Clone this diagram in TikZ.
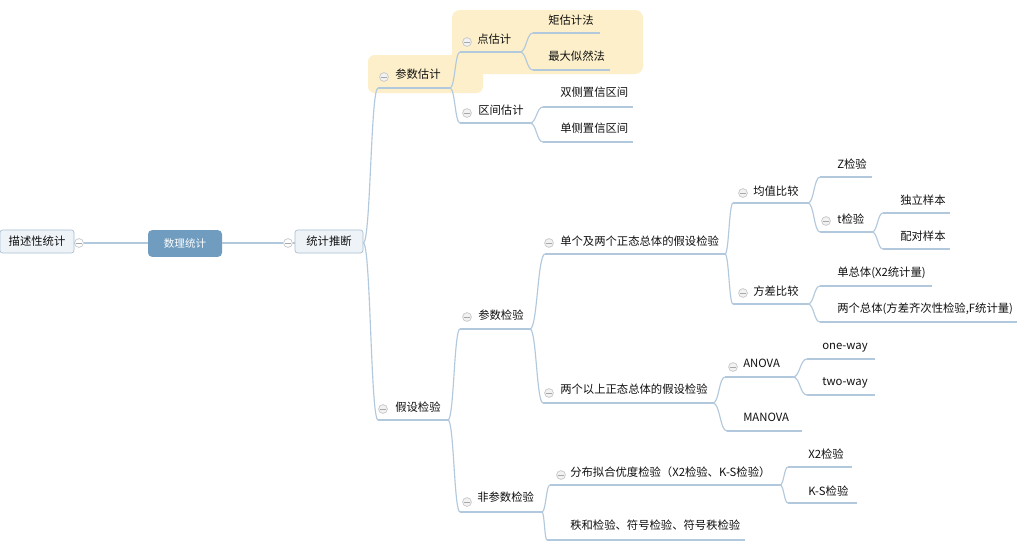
\documentclass[tikz,border=0pt]{standalone}
\usepackage{fontspec}
\setmainfont{Noto Sans CJK SC}
\usetikzlibrary{calc}
\definecolor{linec}{HTML}{B2C8DC}
\definecolor{rootc}{HTML}{6F9CBF}
\definecolor{boxfill}{HTML}{EEF3F8}
\definecolor{boxdraw}{HTML}{A9BFD3}
\definecolor{hilite}{HTML}{FCEFC9}
\definecolor{txtc}{HTML}{111111}
\definecolor{foldd}{HTML}{C4C4C4}
\definecolor{foldf}{HTML}{F2F2F2}
\definecolor{foldm}{HTML}{A8A8A8}
\newcommand\mmtopic[7]{%
  \node[txt] (#1) at (#3,#4) {#2};
  \coordinate (#1-s) at (#6,#5);
  \coordinate (#1-e) at (#7,#5);
  \draw[ul] (#1-s) -- (#1-e);
}
\begin{document}
\begin{tikzpicture}[x=0.75pt,y=-0.75pt,
  txt/.style={anchor=west,inner sep=0pt,text=txtc,font=\fontsize{8.5pt}{10pt}\selectfont,text height=6.3pt,text depth=1.3pt},
  ul/.style={draw=linec,line width=0.85pt},
  conn/.style={draw=linec,line width=0.85pt,
    to path={.. controls ($(\tikztostart)!0.5!(\tikztotarget |- \tikztostart)$) and ($(\tikztotarget)!0.5!(\tikztostart |- \tikztotarget)$) .. (\tikztotarget)}},
  fold/.style={circle,draw=foldd,fill=foldf,line width=0.5pt,minimum size=6.6pt,inner sep=0pt,
    path picture={\draw[foldm,line width=0.6pt] ([xshift=-2pt]path picture bounding box.center) -- ([xshift=2pt]path picture bounding box.center);}},
  foldw/.style={fold,fill=white},
  subbox/.style={rectangle,rounded corners=2pt,draw=boxdraw,fill=boxfill,line width=0.5pt,text=txtc,
    font=\fontsize{8.5pt}{10pt}\selectfont,minimum height=17.25pt,inner sep=0pt},
  rootbox/.style={rectangle,rounded corners=3pt,fill=rootc,text=white,
    font=\fontsize{7.9pt}{10pt}\selectfont,minimum width=55.5pt,minimum height=20pt,inner sep=0pt}
]
\useasboundingbox (0,0) rectangle (1028,554);
\fill[white] (0,0) rectangle (1028,554);

% highlight
\fill[hilite,rounded corners=6pt] (452,10) rectangle (643,74);
\fill[hilite,rounded corners=5pt] (368,55) rectangle (483,93);

% central part
\node[rootbox] (root) at (185,243.5) {数理统计};
\node[subbox,minimum width=55.5pt] (ms) at (37,241.5) {描述性统计};
\node[subbox,minimum width=51pt] (tl) at (329,241.5) {统计推断};
\node[foldw] (f-ms) at (79,243) {};
\node[foldw] (f-tl) at (288,243) {};
\draw[ul] (root.west |- f-ms) -- (f-ms);
\draw[ul] (f-ms) -- (ms.east |- f-ms);
\draw[ul] (root.east |- f-tl) -- (f-tl);
\draw[ul] (f-tl) -- (tl.west |- f-tl);
\coordinate (tl-e) at (tl.east |- f-tl);

% topics
\mmtopic{pe}{参数估计}{395}{75}{88}{378}{450}
\mmtopic{dian}{点估计}{477}{40}{52}{460}{520}
\mmtopic{ju}{矩估计法}{548}{21}{33}{533}{600}
\mmtopic{zd}{最大似然法}{548}{57}{70}{533}{610}
\mmtopic{qj}{区间估计}{478}{111}{123}{460}{530}
\mmtopic{sc}{双侧置信区间}{560}{93}{107}{543}{633}
\mmtopic{dc}{单侧置信区间}{560}{129}{142}{543}{633}
\mmtopic{jy}{假设检验}{395}{408}{420}{378}{448}
\mmtopic{cs}{参数检验}{478}{316}{329}{460}{530}
\mmtopic{dg}{单个及两个正态总体的假设检验}{560}{242}{254}{545}{725}
\mmtopic{jz}{均值比较}{753}{192}{203}{733}{808}
\mmtopic{z}{Z检验}{837}{165}{177}{820}{872}
\mmtopic{t}{t检验}{837}{220}{232}{820}{872}
\mmtopic{dl}{独立样本}{900}{201}{213}{883}{950}
\mmtopic{pd}{配对样本}{900}{237}{249}{883}{950}
\mmtopic{fc}{方差比较}{753}{292}{304}{733}{808}
\mmtopic{dz}{单总体(X2统计量)}{837}{273}{286}{820}{932}
\mmtopic{lg}{两个总体(方差齐次性检验,F统计量)}{837}{309}{322}{820}{1017}
\mmtopic{ls}{两个以上正态总体的假设检验}{560}{390}{403}{543}{713}
\mmtopic{an}{ANOVA}{743}{364}{377}{725}{793}
\mmtopic{ow}{one-way}{822}{346}{359}{807}{875}
\mmtopic{tw}{two-way}{822}{382}{395}{807}{875}
\mmtopic{ma}{MANOVA}{743}{418}{431}{727}{802}
\mmtopic{fcs}{非参数检验}{477}{498}{512}{460}{542}
\mmtopic{fb}{分布拟合优度检验（X2检验、K-S检验）}{570}{473}{485}{550}{780}
\mmtopic{x2}{X2检验}{808}{455}{467}{788}{852}
\mmtopic{ks}{K-S检验}{808}{492}{503}{788}{857}
\mmtopic{zh}{秩和检验、符号检验、符号秩检验}{570}{526}{540}{547}{745}

% connectors
\draw[conn] (tl-e) to (pe-s);
\draw[conn] (tl-e) to (jy-s);
\draw[conn] (pe-e) to (dian-s);
\draw[conn] (pe-e) to (qj-s);
\draw[conn] (dian-e) to (ju-s);
\draw[conn] (dian-e) to (zd-s);
\draw[conn] (qj-e) to (sc-s);
\draw[conn] (qj-e) to (dc-s);
\draw[conn] (jy-e) to (cs-s);
\draw[conn] (jy-e) to (fcs-s);
\draw[conn] (cs-e) to (dg-s);
\draw[conn] (cs-e) to (ls-s);
\draw[conn] (dg-e) to (jz-s);
\draw[conn] (dg-e) to (fc-s);
\draw[conn] (jz-e) to (z-s);
\draw[conn] (jz-e) to (t-s);
\draw[conn] (t-e) to (dl-s);
\draw[conn] (t-e) to (pd-s);
\draw[conn] (fc-e) to (dz-s);
\draw[conn] (fc-e) to (lg-s);
\draw[conn] (ls-e) to (an-s);
\draw[conn] (ls-e) to (ma-s);
\draw[conn] (an-e) to (ow-s);
\draw[conn] (an-e) to (tw-s);
\draw[conn] (fcs-e) to (fb-s);
\draw[conn] (fcs-e) to (zh-s);
\draw[conn] (fb-e) to (x2-s);
\draw[conn] (fb-e) to (ks-s);

% fold markers
\node[fold] (f-pe) at (384,77) {};
\node[fold] (f-dian) at (467,42) {};
\node[fold] (f-qj) at (467,113) {};
\node[fold] (f-jy) at (383,409) {};
\node[fold] (f-cs) at (467,317) {};
\node[fold] (f-dg) at (549,243) {};
\node[fold] (f-jz) at (743,193) {};
\node[fold] (f-t) at (826,221) {};
\node[fold] (f-fc) at (743,293) {};
\node[fold] (f-ls) at (549,393) {};
\node[fold] (f-an) at (733,367) {};
\node[fold] (f-fcs) at (467,502) {};
\node[fold] (f-fb) at (561,475) {};
\end{tikzpicture}
\end{document}
